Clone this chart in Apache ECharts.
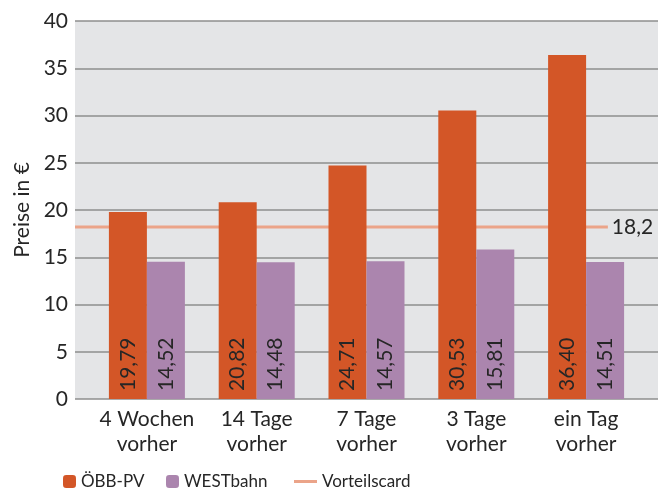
<!DOCTYPE html>
<html>
<head>
<meta charset="utf-8">
<script src="https://cdn.jsdelivr.net/npm/echarts@6/dist/echarts.min.js"></script>
<style>
  html, body { margin: 0; padding: 0; background: #fff; }
  .layer { position: absolute; left: 0; top: 0; width: 669px; height: 488px; }
</style>
</head>
<body>
<!-- back layer: grey plot area, gridlines, y axis, Vorteilscard line -->
<div id="back" class="layer"></div>
<!-- front layer: bars, their labels, categories (so the line stays behind the bars) -->
<div id="front" class="layer"></div>
<script>
const categories = ['4 Wochen\nvorher', '14 Tage\nvorher', '7 Tage\nvorher', '3 Tage\nvorher', 'ein Tag\nvorher']
const oebbValues = [19.79, 20.82, 24.71, 30.53, 36.40]
const westValues = [14.52, 14.48, 14.57, 15.81, 14.51]
const vorteilscard = 18.2
// the reference line stops a bit before the right edge of the grey area
const lineSpan = [0, 0.914]

const FONT = 'Lato'
const FS = 21
const TEXT = '#262626'

const fmt = v => v.toFixed(2).replace('.', ',')

const legendText = { fontFamily: FONT, fontSize: 17, color: TEXT }

const barLabel = {
  show: true, position: 'insideBottom', rotate: 90, distance: 8,
  align: 'left', verticalAlign: 'middle',
  fontFamily: FONT, fontSize: FS, color: TEXT,
  formatter: p => fmt(p.value)
}

const back = echarts.init(document.getElementById('back'))
back.setOption({
  animation: false,
  textStyle: { fontFamily: FONT },
  grid: { left: 75, right: 11, top: 21, bottom: 89, show: true, backgroundColor: '#E4E5E7', borderWidth: 0 },
  legend: {
    data: [{ name: 'Vorteilscard', icon: 'rect' }], left: 289, top: 468,
    itemWidth: 23, itemHeight: 3, textStyle: legendText
  },
  xAxis: { type: 'value', min: 0, max: 1, show: false },
  yAxis: {
    type: 'value', min: 0, max: 40, interval: 5,
    name: 'Preise in €', nameLocation: 'middle', nameGap: 42,
    nameTextStyle: { fontFamily: FONT, fontSize: FS, color: TEXT },
    axisLine: { show: false }, axisTick: { show: false },
    axisLabel: { fontFamily: FONT, fontSize: FS, color: TEXT, margin: 7 },
    splitLine: { lineStyle: { color: '#8E8E8E', width: 1.5 } }
  },
  series: [{
    name: 'Vorteilscard', type: 'line',
    data: lineSpan.map(x => [x, vorteilscard]),
    symbol: 'none',
    lineStyle: { color: '#EBA489', width: 3 },
    itemStyle: { color: '#EBA489' },
    endLabel: {
      show: true, distance: 4,
      fontFamily: FONT, fontSize: FS, color: TEXT,
      formatter: () => String(vorteilscard).replace('.', ',')
    }
  }]
})

const front = echarts.init(document.getElementById('front'))
front.setOption({
  animation: false,
  textStyle: { fontFamily: FONT },
  grid: { left: 92, right: 28, top: 21, bottom: 89 },
  legend: [
    { data: ['ÖBB-PV'], left: 58, top: 468, itemWidth: 13, itemHeight: 13, textStyle: legendText },
    { data: ['WESTbahn'], left: 161, top: 468, itemWidth: 13, itemHeight: 13, textStyle: legendText }
  ],
  xAxis: {
    type: 'category', data: categories,
    axisLine: { show: false }, axisTick: { show: false },
    axisLabel: { fontFamily: FONT, fontSize: FS, lineHeight: 25, color: TEXT, margin: 8, interval: 0 }
  },
  yAxis: { type: 'value', min: 0, max: 40, show: false },
  series: [
    {
      name: 'ÖBB-PV', type: 'bar',
      data: oebbValues, barWidth: 38, barGap: '0%',
      itemStyle: { color: '#D35627' },
      label: barLabel
    },
    {
      name: 'WESTbahn', type: 'bar',
      data: westValues, barWidth: 38, barGap: '0%',
      itemStyle: { color: '#AB85AE' },
      label: barLabel
    }
  ]
})
</script>
</body>
</html>
